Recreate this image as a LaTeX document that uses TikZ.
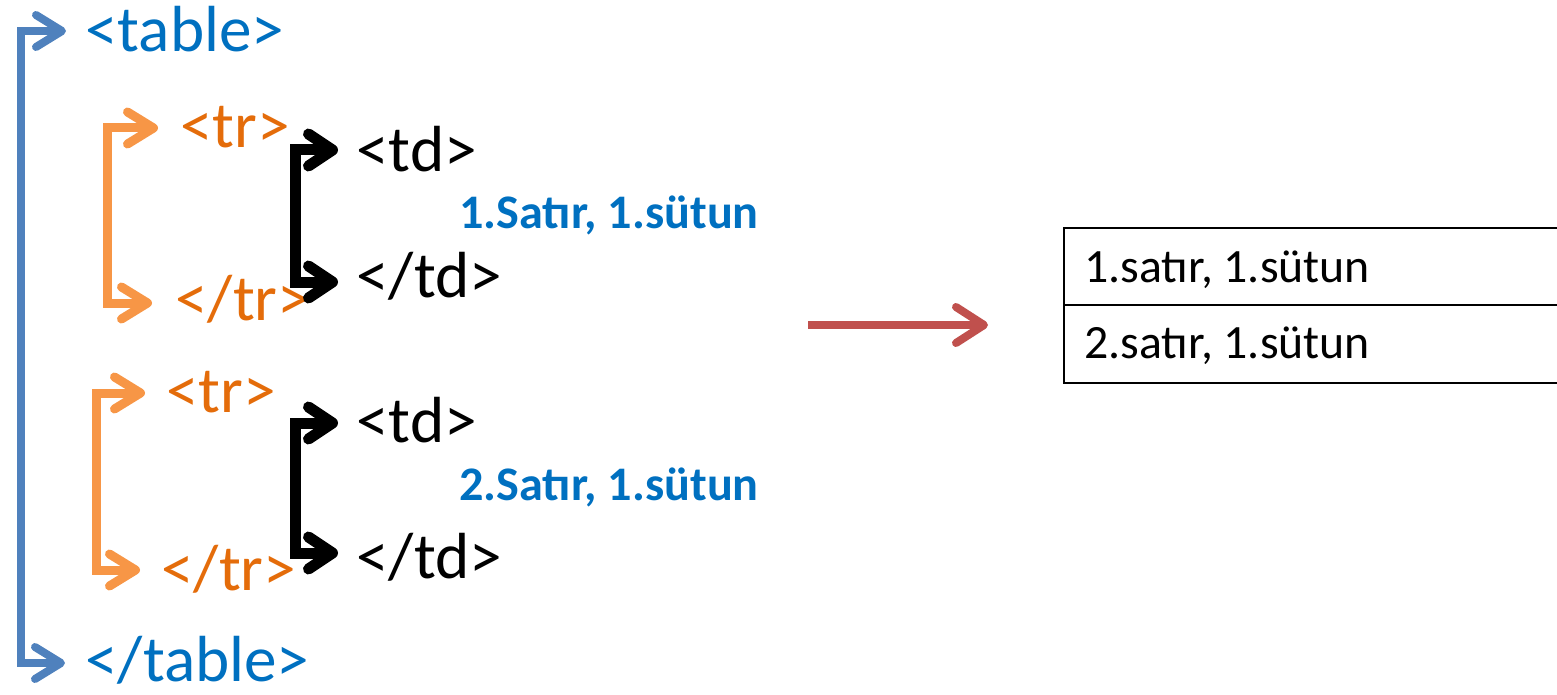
\documentclass[tikz,border=0pt]{standalone}
\usepackage{fontspec}
\setmainfont{Carlito}
\usetikzlibrary{arrows.meta}
\definecolor{tblue}{HTML}{0070C0}
\definecolor{ablue}{HTML}{4F81BD}
\definecolor{torange}{HTML}{E46C0A}
\definecolor{aorange}{HTML}{F79646}
\definecolor{ared}{HTML}{C0504D}
\begin{document}
\begin{tikzpicture}[x=0.5pt,y=-0.5pt,
  tag/.style={inner sep=0pt, anchor=base west, font=\fontsize{32.6}{38}\selectfont},
  lbl/.style={inner sep=0pt, anchor=base west, text=tblue, font=\fontsize{24.1}{29}\selectfont\bfseries},
  cell/.style={inner sep=0pt, anchor=base west, font=\fontsize{23.9}{29}\selectfont},
  bluearr/.style={draw=ablue, line width=4pt, line join=miter,
    {Straight Barb[length=13pt,width=16pt,round]}-{Straight Barb[length=13pt,width=16pt,round]}},
  orangearr/.style={draw=aorange, line width=4.5pt, line join=miter,
    {Straight Barb[length=13pt,width=16pt,round]}-{Straight Barb[length=13pt,width=16pt,round]}},
  blackarr/.style={draw=black, line width=5.5pt, line join=miter,
    {Straight Barb[length=12pt,width=16pt,round]}-{Straight Barb[length=12pt,width=16pt,round]}},
  redarr/.style={draw=ared, line width=4pt, -{Straight Barb[length=14pt,width=18pt,round]}},
  tblline/.style={draw=black, line width=1.2pt}
]
\useasboundingbox (0,0) rectangle (1557,695);

% tags
\node[tag, text=tblue] (tabO) at (85,52) {<table>};
\node[tag, text=tblue] (tabC) at (85,681) {</table>};
\node[tag, text=torange] (trO1) at (180,148) {<tr>};
\node[tag, text=torange] (trC1) at (175,320) {</tr>};
\node[tag, text=torange] (trO2) at (166,412) {<tr>};
\node[tag, text=torange] (trC2) at (161,590) {</tr>};
\node[tag] (tdO1) at (356,172) {<td>};
\node[tag] (tdC1) at (356,298) {</td>};
\node[tag] (tdO2) at (356,442) {<td>};
\node[tag] (tdC2) at (356,578) {</td>};
\node[lbl] (l1) at (459,228) {1.Satır, 1.sütun};
\node[lbl] (l2) at (459,500) {2.Satır, 1.sütun};

% elbow connectors
\draw[bluearr] ([shift={(-19,-21)}]tabO.base west) -- ++(-45,0)
  |- ([shift={(-20,-18)}]tabC.base west);
\draw[orangearr] ([shift={(-22,-20)}]trO1.base west) -- ++(-51,0)
  |- ([shift={(-23,-17)}]trC1.base west);
\draw[orangearr] ([shift={(-21,-19)}]trO2.base west) -- ++(-49,0)
  |- ([shift={(-21,-20)}]trC2.base west);
\draw[blackarr] ([shift={(-18,-22)}]tdO1.base west) -- ++(-43,0)
  |- ([shift={(-18,-16)}]tdC1.base west);
\draw[blackarr] ([shift={(-18,-19)}]tdO2.base west) -- ++(-43,0)
  |- ([shift={(-18,-25)}]tdC2.base west);

% result table
\coordinate (tl) at (1064,228);
\coordinate (ml) at (1064,305);
\coordinate (bl) at (1064,383);
\coordinate (tr) at (1560,228);
\coordinate (mr) at (1560,305);
\coordinate (br) at (1560,383);
\draw[tblline] (tr) -- (tl) -- (bl) -- (br);
\draw[tblline] (ml) -- (mr);
\node[cell] (c1) at (1084,283) {1.satır, 1.sütun};
\node[cell] (c2) at (1084,358) {2.satır, 1.sütun};

% red arrow
\coordinate (rs) at (808,325);
\coordinate (re) at (988,325);
\draw[redarr] (rs) -- (re);
\end{tikzpicture}
\end{document}
